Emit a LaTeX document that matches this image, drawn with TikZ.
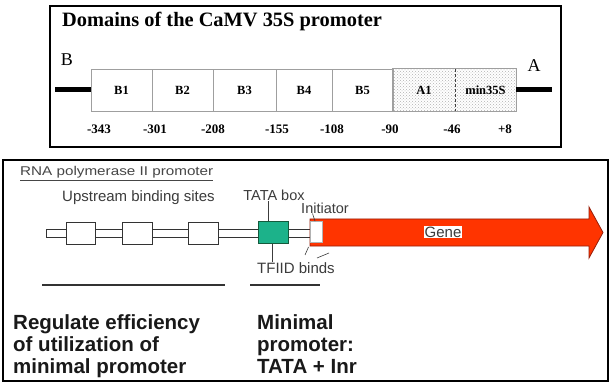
\documentclass[tikz,border=0pt]{standalone}
\usepackage{fontspec}
\setmainfont{Liberation Serif}
\newfontfamily\arialf{Liberation Sans}
\newfontfamily\arialwide[FakeStretch=1.2]{Liberation Sans}
\usetikzlibrary{patterns,calc}
\definecolor{genered}{RGB}{255,52,0}
\definecolor{genedark}{RGB}{150,30,10}
\definecolor{tatagreen}{RGB}{28,178,138}
\definecolor{tatadark}{RGB}{20,90,60}
\definecolor{txtgray}{RGB}{60,60,60}
\begin{document}
\begin{tikzpicture}[x=1pt,y=-1pt,
  seg/.style={draw=gray!75, fill=white, minimum height=42pt, inner sep=0pt, line width=0.8pt,
              font=\bfseries\fontsize{12.5}{14}\selectfont},
  dotseg/.style={pattern=crosshatch dots, pattern color=gray!60, minimum height=42pt, inner sep=0pt,
              font=\bfseries\fontsize{12.5}{14}\selectfont},
  poslbl/.style={inner sep=0pt, font=\bfseries\fontsize{13}{15}\selectfont},
  endlbl/.style={inner sep=0pt, font=\fontsize{18}{20}\selectfont},
  thickbar/.style={line width=5pt},
  framebox/.style={line width=1.2pt},
  smalltxt/.style={inner sep=0pt, text=txtgray, font=\arialf\fontsize{14.5}{16}\selectfont},
  sitebox/.style={draw=gray!40!black, fill=white, minimum height=22pt, inner sep=0pt, line width=0.7pt},
  rulebar/.style={line width=2.5pt, draw=gray!40!black},
  pointer/.style={draw=txtgray, line width=0.6pt},
  bigtxt/.style={inner sep=0pt, anchor=base west, text=black!90, font=\arialf\bfseries\fontsize{20.5}{22}\selectfont}
]
\useasboundingbox (0,0) rectangle (611,385);
\fill[white] (0,0) rectangle (611,385);

% ---------- top panel ----------
\draw[framebox] (50,6) rectangle (561,147);
\node[anchor=base west, inner sep=0pt, font=\bfseries\fontsize{20.4}{22}\selectfont] (title) at (62,27) {Domains of the CaMV 35S promoter};
\node[endlbl] (Blbl) at (67,60) {B};
\node[endlbl] (Albl) at (534,66) {A};

\node[seg, minimum width=61pt] (b1) at (121.5,90) {B1};
\node[seg, minimum width=61pt] (b2) at (182.5,90) {B2};
\node[seg, minimum width=63pt] (b3) at (244.5,90) {B3};
\node[seg, minimum width=56pt] (b4) at (304,90) {B4};
\node[seg, minimum width=61pt] (b5) at (362.5,90) {B5};
\node[dotseg, minimum width=62pt] (a1) at (424,90) {A1};
\node[dotseg, minimum width=61pt] (mn) at (485.5,90) {min35S};
\draw[draw=gray!75, line width=0.8pt] (a1.north west) rectangle (mn.south east);
\draw[draw=gray!50!black, line width=0.7pt, densely dashed] (a1.north east) -- (a1.south east);

\coordinate (lend) at (55,90);
\coordinate (rend) at (552,90);
\draw[thickbar] (lend) -- (b1.west);
\draw[thickbar] (mn.east) -- (rend);

\node[poslbl] (n1) at (99,129) {-343};
\node[poslbl] (n2) at (155,129) {-301};
\node[poslbl] (n3) at (213,129) {-208};
\node[poslbl] (n4) at (277,129) {-155};
\node[poslbl] (n5) at (332,129) {-108};
\node[poslbl] (n6) at (390,129) {-90};
\node[poslbl] (n7) at (452,129) {-46};
\node[poslbl] (n8) at (505,129) {+8};

% ---------- bottom panel ----------
\draw[framebox] (3,160) rectangle (608,381);
\node[anchor=base west, inner sep=0pt, text=gray!55!black, font=\arialwide\fontsize{12.7}{14}\selectfont] (rnatitle) at (20,176) {\underline{RNA polymerase II promoter}};
\node[smalltxt, anchor=west, font=\arialf\fontsize{15}{17}\selectfont] (ups) at (62,198) {Upstream binding sites};

\draw[draw=gray!40!black, fill=white, line width=0.7pt] (46,229) rectangle (312,237);
\node[sitebox, minimum width=29pt] (u1) at (80.5,233) {};
\node[sitebox, minimum width=30pt] (u2) at (137,233) {};
\node[sitebox, minimum width=30pt] (u3) at (203,233) {};
\node[sitebox, minimum width=30pt, fill=tatagreen, draw=tatadark] (tata) at (273.5,232.5) {};

\draw[fill=genered, draw=genedark, line width=0.8pt]
  (310,219) -- (589,219) -- (589,207) -- (603,232.5) -- (589,258) -- (589,246) -- (310,246) -- cycle;
\node[sitebox, minimum width=12pt, minimum height=21pt, draw=gray!60] (init) at (316,232) {};
\node[smalltxt, fill=white, inner sep=1pt, font=\arialf\fontsize{15}{17}\selectfont] (gene) at (443,232) {Gene};

\node[smalltxt, anchor=south] (tatalbl) at (274,201) {TATA box};
\draw[pointer] ([xshift=-5.5pt]tata.north) -- ([xshift=-5.5pt]tata.north |- tatalbl.south);
\node[smalltxt, anchor=north, font=\arialf\fontsize{15}{17}\selectfont] (tfiid) at (296,262) {TFIID binds};
\draw[pointer] ([xshift=-1.5pt]tata.south) -- ([xshift=-1.5pt]tata.south |- tfiid.north);
\node[smalltxt] (initlbl) at (325,208) {Initiator};
\coordinate (ip) at (312.5,213.5);
\draw[pointer] (ip) -- ([xshift=-1pt]init.north);
\coordinate (tp1) at (305,255);
\coordinate (tq1) at (308.5,247);
\coordinate (tp2) at (317,258);
\coordinate (tq2) at (329,253);
\draw[pointer] (tp1) -- (tq1);
\draw[pointer] (tp2) -- (tq2);

\coordinate (r1a) at (42,285);
\coordinate (r1b) at (225,285);
\coordinate (r2a) at (250,285);
\coordinate (r2b) at (320,285);
\draw[rulebar] (r1a) -- (r1b);
\draw[rulebar] (r2a) -- (r2b);

\node[bigtxt] (L1) at (13,329) {Regulate efficiency};
\node[bigtxt] (L2) at (13,351) {of utilization of};
\node[bigtxt] (L3) at (13,373) {minimal promoter};
\node[bigtxt] (M1) at (257,329) {Minimal};
\node[bigtxt] (M2) at (257,351) {promoter:};
\node[bigtxt] (M3) at (257,373) {TATA + Inr};
\end{tikzpicture}
\end{document}
